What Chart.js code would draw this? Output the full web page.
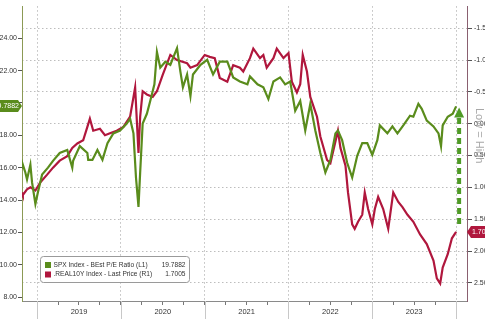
<!DOCTYPE html>
<html>
<head>
<meta charset="utf-8">
<script src="https://cdn.jsdelivr.net/npm/chart.js@4.4.0/dist/chart.umd.min.js"></script>
<style>
  html, body { margin: 0; padding: 0; background: #fff; overflow: hidden; }
  #wrap { position: relative; width: 485px; height: 319px; }
</style>
</head>
<body>
<div id="wrap"><canvas id="peChart" width="485" height="319"></canvas></div>
<script>
// SPX forward P/E (left axis), dates as decimal years
const peDates = [
    2018.82, 2018.83, 2018.86, 2018.88, 2018.92, 2018.94, 2018.98, 2019.01, 2019.06, 2019.13,
    2019.19, 2019.27, 2019.36, 2019.42, 2019.43, 2019.51, 2019.60, 2019.61, 2019.66, 2019.72,
    2019.78, 2019.84, 2019.91, 2019.99, 2020.07, 2020.11, 2020.15, 2020.18, 2020.21, 2020.23,
    2020.26, 2020.31, 2020.35, 2020.40, 2020.43, 2020.47, 2020.53, 2020.59, 2020.67, 2020.71,
    2020.74, 2020.79, 2020.83, 2020.86, 2020.95, 2021.03, 2021.10, 2021.18, 2021.27, 2021.34,
    2021.42, 2021.51, 2021.54, 2021.63, 2021.70, 2021.76, 2021.82, 2021.90, 2021.96, 2022.02,
    2022.08, 2022.14, 2022.20, 2022.26, 2022.32, 2022.38, 2022.44, 2022.50, 2022.56, 2022.59,
    2022.64, 2022.70, 2022.76, 2022.82, 2022.88, 2022.94, 2023.00, 2023.06, 2023.09, 2023.18,
    2023.24, 2023.30, 2023.37, 2023.45, 2023.49, 2023.55, 2023.59, 2023.65, 2023.73, 2023.79,
    2023.82, 2023.84, 2023.90, 2023.96, 2024.00
];
const peValues = [
    16.00, 16.18, 15.70, 15.27, 16.18, 15.09, 13.76, 14.48, 15.58, 16.00,
    16.42, 16.91, 17.09, 16.00, 16.42, 17.33, 16.91, 16.48, 16.48, 17.09,
    16.48, 17.52, 18.12, 18.30, 18.73, 19.03, 18.12, 15.39, 13.58, 15.70,
    18.73, 19.33, 20.12, 21.15, 23.15, 22.18, 22.55, 22.36, 23.39, 21.94,
    20.97, 21.76, 20.42, 21.76, 22.36, 22.67, 21.76, 22.55, 22.55, 21.58,
    21.33, 21.15, 21.64, 21.15, 20.97, 20.24, 21.33, 21.58, 21.15, 21.33,
    19.52, 20.12, 18.30, 19.94, 18.30, 16.91, 15.70, 16.48, 18.12, 18.30,
    17.70, 16.30, 15.39, 16.73, 17.52, 17.52, 16.79, 17.70, 18.61, 18.12,
    18.55, 18.12, 18.61, 19.21, 19.15, 19.94, 19.64, 18.91, 18.55, 18.12,
    17.33, 18.61, 19.15, 19.33, 19.7882
];

// US 10Y real yield (right axis, inverted)
const ryDates = [
    2018.82, 2018.83, 2018.88, 2018.92, 2018.98, 2019.04, 2019.12, 2019.19, 2019.27, 2019.36,
    2019.42, 2019.48, 2019.55, 2019.60, 2019.63, 2019.67, 2019.75, 2019.81, 2019.87, 2019.95,
    2020.03, 2020.11, 2020.17, 2020.21, 2020.23, 2020.26, 2020.31, 2020.38, 2020.43, 2020.50,
    2020.59, 2020.67, 2020.79, 2020.83, 2020.91, 2021.00, 2021.06, 2021.12, 2021.18, 2021.27,
    2021.34, 2021.42, 2021.46, 2021.54, 2021.58, 2021.66, 2021.70, 2021.74, 2021.82, 2021.86,
    2021.94, 2022.00, 2022.04, 2022.10, 2022.14, 2022.17, 2022.22, 2022.26, 2022.34, 2022.38,
    2022.46, 2022.50, 2022.59, 2022.62, 2022.68, 2022.71, 2022.76, 2022.79, 2022.83, 2022.88,
    2022.91, 2022.95, 2023.00, 2023.03, 2023.07, 2023.13, 2023.19, 2023.25, 2023.31, 2023.36,
    2023.42, 2023.49, 2023.57, 2023.65, 2023.73, 2023.77, 2023.81, 2023.84, 2023.90, 2023.95,
    2024.00
];
const ryValues = [
    1.08, 1.12, 1.03, 1.00, 1.05, 0.92, 0.80, 0.69, 0.58, 0.51,
    0.38, 0.31, 0.26, 0.05, -0.08, 0.11, 0.08, 0.18, 0.15, 0.11,
    0.05, -0.11, -0.57, 0.46, -0.11, -0.51, -0.46, -0.42, -0.51, -0.77,
    -1.08, -1.00, -0.95, -0.88, -0.92, -1.08, -1.05, -1.03, -0.72, -0.66,
    -0.92, -0.88, -0.82, -1.03, -1.18, -1.03, -1.08, -0.88, -1.03, -1.18,
    -1.03, -1.11, -0.66, -0.49, -0.62, -1.08, -0.82, -0.42, -0.11, 0.20,
    0.57, 0.62, 0.11, 0.38, 0.66, 1.08, 1.58, 1.65, 1.54, 1.43,
    1.08, 1.34, 1.58, 1.34, 1.15, 1.34, 1.65, 1.08, 1.23, 1.31,
    1.43, 1.54, 1.74, 1.89, 2.15, 2.43, 2.51, 2.26, 2.05, 1.80,
    1.7005
];

const seriesNames = ['SPX Index - BEst P/E Ratio (L1)', '.REAL10Y Index - Last Price (R1)'];
const lastValues = ['19.7882', '1.7005'];
const yearBounds = [2019, 2020, 2021, 2022, 2023, 2024];
const sideNote = 'Low = High';

const GREEN = '#5a8c1c';
const RED = '#b0173d';
const FONT = '"Liberation Sans", Arial, sans-serif';

const toPoints = (xs, ys) => xs.map((d, i) => ({ x: d, y: ys[i] }));
const isYear = (v) => Math.abs(v - Math.round(v)) < 0.01;
const isMidYear = (v) => Math.abs(v - Math.floor(v) - 0.5) < 0.01;

// last value tags, legend, arrow and side note
const overlay = {
    id: 'overlay',
    afterDraw(chart) {
        const { ctx, chartArea: a, scales } = chart;
        const xs = scales.x, yl = scales.yL, yr = scales.yR;
        ctx.save();

        // year separators below the axis
        ctx.strokeStyle = '#c8c8c8';
        ctx.lineWidth = 1;
        ctx.setLineDash([]);
        yearBounds.forEach(y => {
            const px = Math.round(xs.getPixelForValue(y)) + 0.5;
            ctx.beginPath();
            ctx.moveTo(px, a.bottom);
            ctx.lineTo(px, chart.height);
            ctx.stroke();
        });

        // dashed arrow from real yield end up to P/E end
        const lastX = xs.getPixelForValue(peDates[peDates.length - 1]) + 3;
        const yTop = yl.getPixelForValue(peValues[peValues.length - 1]) + 1;
        const yBot = yr.getPixelForValue(ryValues[ryValues.length - 1]) - 8;
        ctx.strokeStyle = '#4f9a26';
        ctx.lineWidth = 4;
        ctx.setLineDash([6, 4]);
        ctx.beginPath();
        ctx.moveTo(lastX, yBot);
        ctx.lineTo(lastX, yTop + 9);
        ctx.stroke();
        ctx.setLineDash([]);
        ctx.fillStyle = '#4f9a26';
        ctx.beginPath();
        ctx.moveTo(lastX, yTop);
        ctx.lineTo(lastX - 5, yTop + 10);
        ctx.lineTo(lastX + 5, yTop + 10);
        ctx.closePath();
        ctx.fill();

        // rotated side note
        ctx.save();
        ctx.translate(476, 108);
        ctx.rotate(Math.PI / 2);
        ctx.fillStyle = '#a8a8a8';
        ctx.font = '11px ' + FONT;
        ctx.textAlign = 'left';
        ctx.textBaseline = 'alphabetic';
        ctx.fillText(sideNote, 0, 0);
        ctx.restore();

        // left tag (green)
        ctx.font = '7px ' + FONT;
        ctx.textBaseline = 'middle';
        let ty = Math.round(yl.getPixelForValue(peValues[peValues.length - 1]));
        ctx.fillStyle = GREEN;
        ctx.beginPath();
        ctx.moveTo(-6, ty - 6);
        ctx.lineTo(18, ty - 6);
        ctx.lineTo(22, ty);
        ctx.lineTo(18, ty + 6);
        ctx.lineTo(-6, ty + 6);
        ctx.closePath();
        ctx.fill();
        ctx.fillStyle = '#fff';
        ctx.textAlign = 'right';
        ctx.fillText(lastValues[0], 19, ty + 0.5);

        // right tag (red)
        ty = Math.round(yr.getPixelForValue(ryValues[ryValues.length - 1]));
        ctx.fillStyle = RED;
        ctx.beginPath();
        ctx.moveTo(a.right, ty);
        ctx.lineTo(a.right + 4, ty - 6);
        ctx.lineTo(chart.width + 10, ty - 6);
        ctx.lineTo(chart.width + 10, ty + 6);
        ctx.lineTo(a.right + 4, ty + 6);
        ctx.closePath();
        ctx.fill();
        ctx.fillStyle = '#fff';
        ctx.textAlign = 'left';
        ctx.fillText(lastValues[1], a.right + 5, ty + 0.5);

        // legend box
        const lx = 40.5, ly = 256.5, lw = 149, lh = 26;
        ctx.fillStyle = '#fff';
        ctx.strokeStyle = '#9a9a9a';
        ctx.lineWidth = 1;
        ctx.beginPath();
        ctx.roundRect(lx, ly, lw, lh, 3);
        ctx.fill();
        ctx.stroke();
        ctx.font = '6.6px ' + FONT;
        [GREEN, RED].forEach((c, i) => {
            const rowY = ly + 8.5 + i * 9.5;
            ctx.fillStyle = c;
            ctx.fillRect(lx + 4.5, rowY - 3, 6, 6);
            ctx.fillStyle = '#333';
            ctx.textAlign = 'left';
            ctx.fillText(seriesNames[i], lx + 13, rowY);
            ctx.textAlign = 'right';
            ctx.fillText(lastValues[i], lx + lw - 4, rowY);
        });

        ctx.restore();
    }
};

const ctx = document.getElementById('peChart').getContext('2d');
const peChart = new Chart(ctx, {
    type: 'line',
    data: {
        datasets: [{
            label: seriesNames[0],
            data: toPoints(peDates, peValues),
            yAxisID: 'yL',
            borderColor: GREEN,
            borderWidth: 2.2,
            pointRadius: 0,
            tension: 0
        }, {
            label: seriesNames[1],
            data: toPoints(ryDates, ryValues),
            yAxisID: 'yR',
            borderColor: RED,
            borderWidth: 2.2,
            pointRadius: 0,
            tension: 0
        }]
    },
    options: {
        responsive: false,
        animation: false,
        devicePixelRatio: 1,
        layout: { padding: 0 },
        plugins: {
            legend: { display: false },
            tooltip: { enabled: false }
        },
        scales: {
            x: {
                type: 'linear',
                position: 'bottom',
                min: 2018.82,
                max: 2024.13,
                afterFit: (s) => { s.height = 18; },
                ticks: {
                    stepSize: 0.25,
                    autoSkip: false,
                    maxRotation: 0,
                    includeBounds: false,
                    padding: 2,
                    color: '#333',
                    font: { family: FONT, size: 7.5 },
                    callback: (v) => isMidYear(v) ? String(Math.floor(v)) : ''
                },
                grid: {
                    color: (c) => (c.tick && isYear(c.tick.value)) ? '#bdbdbd' : 'rgba(0,0,0,0)',
                    tickColor: '#777',
                    tickLength: 4
                },
                border: { color: '#8a8a8a', dash: [1.5, 2.5] }
            },
            yL: {
                position: 'left',
                min: 7.76,
                max: 25.98,
                afterFit: (s) => { s.width = 22; },
                ticks: {
                    stepSize: 2,
                    includeBounds: false,
                    padding: 1,
                    color: '#333',
                    font: { family: FONT, size: 7 },
                    callback: (v) => v.toFixed(2)
                },
                grid: {
                    drawOnChartArea: false,
                    tickColor: '#555',
                    tickLength: 4
                },
                border: { color: '#8c9a55' }
            },
            yR: {
                position: 'right',
                reverse: true,
                min: -1.846,
                max: 2.785,
                afterFit: (s) => { s.width = 18; },
                ticks: {
                    stepSize: 0.5,
                    includeBounds: false,
                    padding: 2,
                    color: '#333',
                    font: { family: FONT, size: 7 },
                    callback: (v) => v.toFixed(2)
                },
                grid: {
                    color: '#bdbdbd',
                    tickColor: '#555',
                    tickLength: 5
                },
                border: { color: '#8a6070', dash: [1.5, 2.5] }
            }
        }
    },
    plugins: [overlay]
});
</script>
</body>
</html>
